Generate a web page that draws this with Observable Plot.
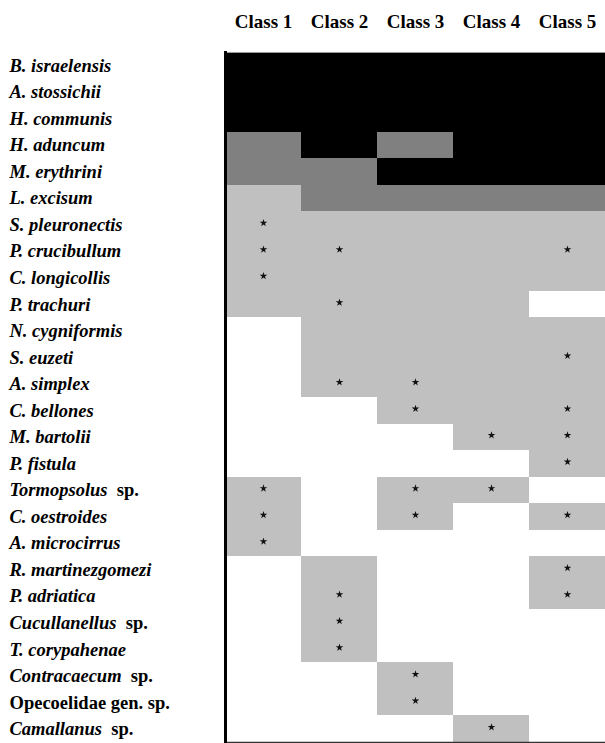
<!DOCTYPE html>
<html><head><meta charset="utf-8">
<script src="https://cdn.jsdelivr.net/npm/d3@7"></script>
<script src="https://cdn.jsdelivr.net/npm/@observablehq/plot@0.6"></script>
<style>
html,body{margin:0;padding:0;background:#fff;overflow:hidden}
</style>
</head><body><div id="chart"></div>
<script>
const classes = ["Class 1", "Class 2", "Class 3", "Class 4", "Class 5"];
const species = [
  "B. israelensis", "A. stossichii", "H. communis", "H. aduncum", "M. erythrini",
  "L. excisum", "S. pleuronectis", "P. crucibullum", "C. longicollis", "P. trachuri",
  "N. cygniformis", "S. euzeti", "A. simplex", "C. bellones", "M. bartolii",
  "P. fistula", "Tormopsolus sp.", "C. oestroides", "A. microcirrus", "R. martinezgomezi",
  "P. adriatica", "Cucullanellus sp.", "T. corypahenae", "Contracaecum sp.",
  "Opecoelidae gen. sp.", "Camallanus sp."
];
// shading level per species across the five classes: 0 white, 1 light grey, 2 dark grey, 3 black
const levels = [
  [3,3,3,3,3], [3,3,3,3,3], [3,3,3,3,3], [2,3,2,3,3], [2,2,3,3,3],
  [1,2,2,2,2], [1,1,1,1,1], [1,1,1,1,1], [1,1,1,1,1], [1,1,1,1,0],
  [0,1,1,1,1], [0,1,1,1,1], [0,1,1,1,1], [0,0,1,1,1], [0,0,0,1,1],
  [0,0,0,0,1], [1,0,1,1,0], [1,0,1,0,1], [1,0,0,0,0], [0,1,0,0,1],
  [0,1,0,0,1], [0,1,0,0,0], [0,1,0,0,0], [0,0,1,0,0], [0,0,1,0,0],
  [0,0,0,1,0]
];
// classes (1-based) marked with an asterisk, per species
const asterisks = [
  [], [], [], [], [],
  [], [1], [1,2,5], [1], [2],
  [], [5], [2,3], [3,5], [4,5],
  [5], [1,3,4], [1,3,5], [1], [5],
  [2,5], [2], [2], [3], [3],
  [4]
];
const shades = ["#ffffff", "#c0c0c0", "#808080", "#000000"];
const serif = "'Liberation Serif', 'Times New Roman', serif";

const cells = species.flatMap((s, i) => classes.map((c, j) => ({species: s, cls: c, level: levels[i][j]})));
const stars = species.flatMap((s, i) => asterisks[i].map(k => ({species: s, cls: classes[k - 1]})));

const chart = Plot.plot({
  width: 605,
  height: 743,
  marginTop: 52,
  marginBottom: 1,
  marginLeft: 225,
  marginRight: 0,
  style: `font-family: ${serif}; background: #fff; color: #000;`,
  x: {domain: classes, padding: 0, round: false},
  y: {domain: species, padding: 0, round: false},
  color: {type: "ordinal", domain: [0, 1, 2, 3], range: shades},
  marks: [
    Plot.cell(cells, {x: "cls", y: "species", fill: "level", shapeRendering: "crispEdges"}),
    Plot.dot(stars, {x: "cls", y: "species", symbol: "star", r: 2.4, fill: "#111", stroke: null, dy: -2}),
    Plot.axisX({anchor: "top", tickSize: 0, tickPadding: 25, fontSize: 19, fontWeight: "bold", fontFamily: serif, label: null}),
    Plot.axisY({anchor: "left", tickSize: 0, tickPadding: 216, textAnchor: "start", fontSize: 18.5, fontWeight: "bold", fontStyle: "italic", fontFamily: serif, label: null}),
    Plot.frame({anchor: "top", stroke: "#999", strokeWidth: 1}),
    Plot.frame({anchor: "bottom", stroke: "#333", strokeWidth: 1.5}),
    Plot.frame({anchor: "left", stroke: "#000", strokeWidth: 3})
  ]
});

// Genus/species names italic; "sp." and family names upright
d3.select(chart).selectAll('g[aria-label="y-axis tick label"] text').each(function() {
  const label = this.textContent;
  const el = d3.select(this);
  el.text(null);
  if (/idae\b/.test(label)) {
    el.append("tspan").attr("font-style", "normal").text(label);
  } else if (/ sp\.$/.test(label)) {
    el.append("tspan").text(label.replace(/ sp\.$/, ""));
    el.append("tspan").attr("font-style", "normal").text("\u00a0 sp.");
  } else {
    el.append("tspan").text(label);
  }
});

document.getElementById("chart").appendChild(chart);
</script>
</body></html>
